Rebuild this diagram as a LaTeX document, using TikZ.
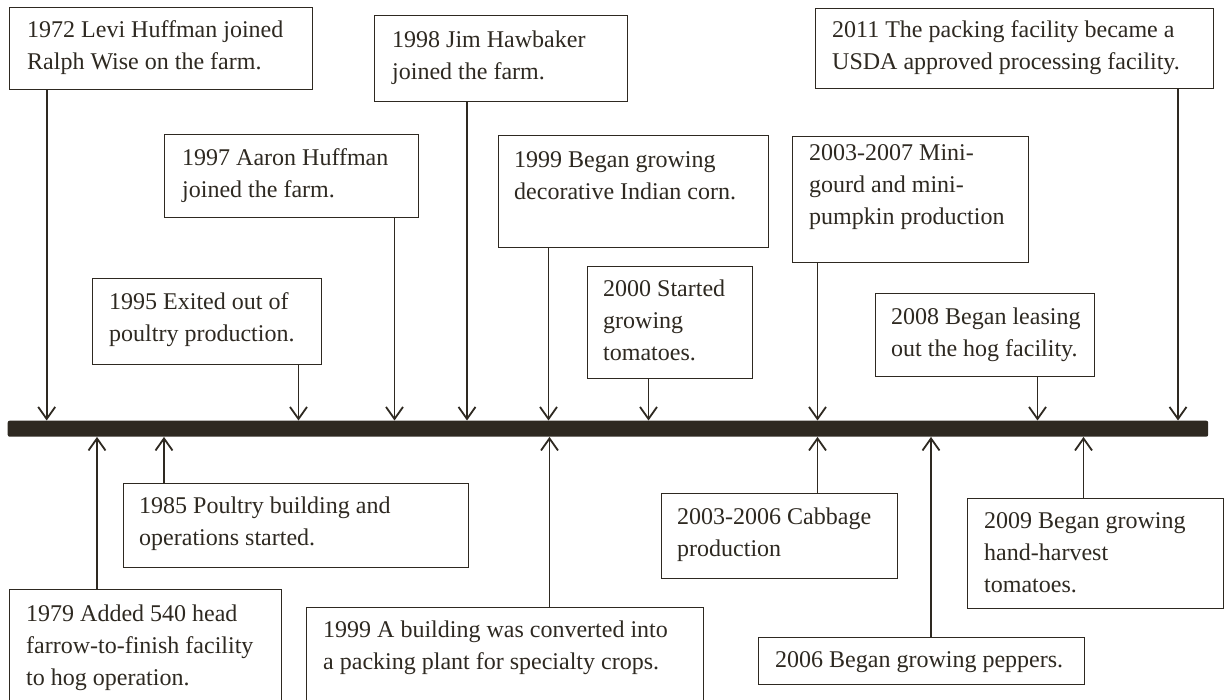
\documentclass[tikz,border=0pt]{standalone}
\usepackage{fontspec}
\setmainfont{Liberation Serif}
\usetikzlibrary{arrows.meta}
\definecolor{ink}{RGB}{46,41,33}
\tikzset{
  evb/.style={draw=ink, line width=1.3pt, fill=none, inner sep=0pt, rectangle},
  evt/.style={inner sep=0pt, text=ink, font=\fontsize{24}{32}\selectfont},
  arr/.style={draw=ink, line width=1.8pt, -{Straight Barb[length=12pt,width=17pt]}},
  barstyle/.style={fill=ink, draw=none, rounded corners=2pt, inner sep=0pt}
}
% name, x1, y1, x2, y2, text x, first baseline y, text
\newcommand\evbox[8]{%
  \node[evb, minimum width={(#4-#2)*1pt}, minimum height={(#5-#3)*1pt}, anchor=north west] (#1) at (#2,#3) {};
  \node[evt, anchor=base west] (#1t) at (#6,#7) {\parbox[t]{420pt}{\raggedright #8}};
}
\begin{document}
\begin{tikzpicture}[x=1pt,y=-1pt]
\clip (0,0) rectangle (1225,699);
\fill[white] (0,0) rectangle (1225,699);

\node[barstyle, minimum width=1200.5pt, minimum height=16pt, anchor=west] (bar) at (7.5,428.7) {};

% top events
\evbox{b1972}{9}{7}{312}{89}{27}{37}{1972 Levi Huffman joined\\Ralph Wise on the farm.}
\evbox{b1997}{164}{134}{418}{217}{182}{165}{1997 Aaron Huffman\\joined the farm.}
\evbox{b1998}{374}{15}{627}{101}{392}{47}{1998 Jim Hawbaker\\joined the farm.}
\evbox{b1999c}{498}{135}{768}{247}{514}{167}{1999 Began growing\\decorative Indian corn.}
\evbox{b2000}{587}{266}{752}{378}{603}{296}{2000 Started\\growing\\tomatoes.}
\evbox{b2003}{792}{136}{1028}{262}{809}{160}{2003-2007 Mini-\\gourd and mini-\\pumpkin production}
\evbox{b2008}{875}{293}{1094}{376}{891}{324}{2008 Began leasing\\out the hog facility.}
\evbox{b2011}{815}{8}{1213}{88}{832}{37}{2011 The packing facility became a\\USDA approved processing facility.}
\evbox{b1995}{92}{278}{321}{364}{109}{309}{1995 Exited out of\\poultry production.}

% bottom events
\evbox{b1985}{123}{483}{468}{567}{139}{513}{1985 Poultry building and\\operations started.}
\evbox{b1979}{9}{589}{281}{730}{26}{621}{1979 Added 540 head\\farrow-to-finish facility\\to hog operation.}
\evbox{b1999p}{306}{607}{703}{730}{323}{637}{1999 A building was converted into\\a packing plant for specialty crops.}
\evbox{b2003c}{661}{493}{897}{578}{677}{524}{2003-2006 Cabbage\\production}
\evbox{b2006}{758}{637}{1084}{684}{775}{667}{2006 Began growing peppers.}
\evbox{b2009}{967}{498}{1223}{608}{984}{528}{2009 Began growing\\hand-harvest\\tomatoes.}

% arrow x positions
\coordinate (x1972) at (46.7,0);
\coordinate (x1995) at (298.5,0);
\coordinate (x1997) at (394.5,0);
\coordinate (x1998) at (467,0);
\coordinate (x1999c) at (548.5,0);
\coordinate (x2000) at (648.5,0);
\coordinate (x2003) at (817.5,0);
\coordinate (x2008) at (1037.5,0);
\coordinate (x2011) at (1178,0);
\coordinate (x1979) at (97,0);
\coordinate (x1985) at (164,0);
\coordinate (x1999p) at (549.5,0);
\coordinate (x2006) at (931,0);
\coordinate (x2009) at (1083.5,0);

% down arrows
\draw[arr] (b1972.south -| x1972) -- (bar.north -| x1972);
\draw[arr] (b1995.south -| x1995) -- (bar.north -| x1995);
\draw[arr] (b1997.south -| x1997) -- (bar.north -| x1997);
\draw[arr] (b1998.south -| x1998) -- (bar.north -| x1998);
\draw[arr] (b1999c.south -| x1999c) -- (bar.north -| x1999c);
\draw[arr] (b2000.south -| x2000) -- (bar.north -| x2000);
\draw[arr] (b2003.south -| x2003) -- (bar.north -| x2003);
\draw[arr] (b2008.south -| x2008) -- (bar.north -| x2008);
\draw[arr] (b2011.south -| x2011) -- (bar.north -| x2011);

% up arrows
\draw[arr] (b1979.north -| x1979) -- (bar.south -| x1979);
\draw[arr] (b1985.north -| x1985) -- (bar.south -| x1985);
\draw[arr] (b1999p.north -| x1999p) -- (bar.south -| x1999p);
\draw[arr] (b2003c.north -| x2003) -- (bar.south -| x2003);
\draw[arr] (b2006.north -| x2006) -- (bar.south -| x2006);
\draw[arr] (b2009.north -| x2009) -- (bar.south -| x2009);
\end{tikzpicture}
\end{document}
